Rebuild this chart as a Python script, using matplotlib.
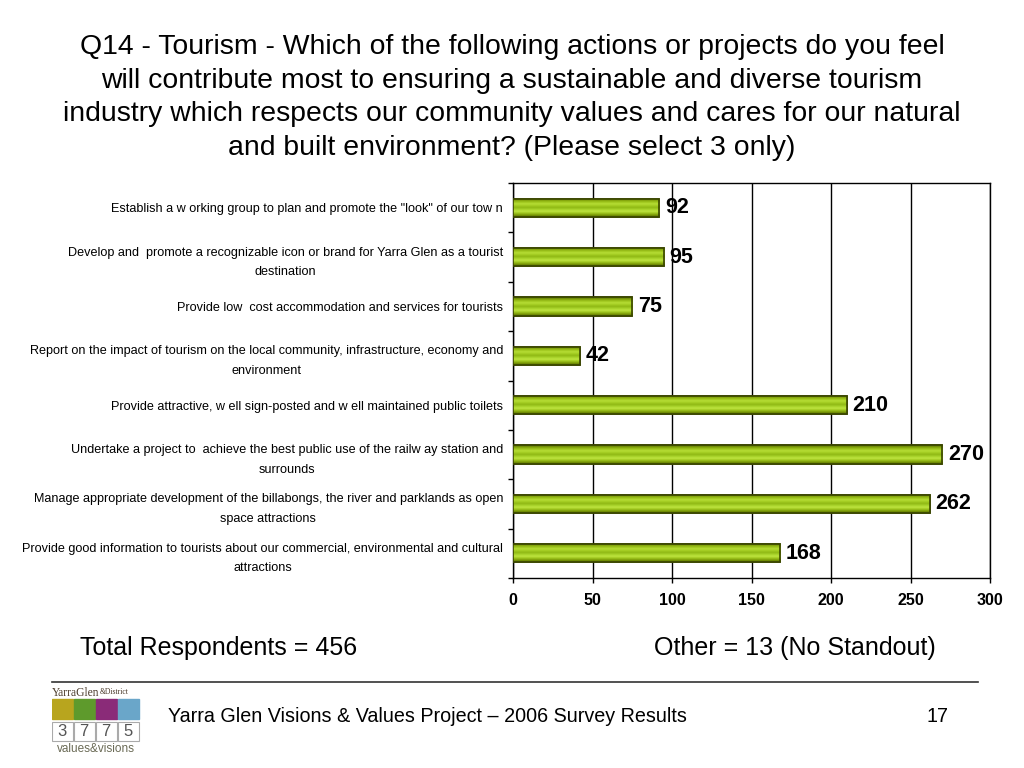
import matplotlib
matplotlib.use("Agg")
import matplotlib.pyplot as plt
import numpy as np
from matplotlib.patches import Rectangle
from matplotlib.colors import LinearSegmentedColormap

plt.rcParams['font.family'] = ['Liberation Sans', 'DejaVu Sans']

categories = [
    'Establish a w orking group to plan and promote the "look" of our tow n',
    'Develop and  promote a recognizable icon or brand for Yarra Glen as a tourist\ndestination',
    'Provide low  cost accommodation and services for tourists',
    'Report on the impact of tourism on the local community, infrastructure, economy and\nenvironment',
    'Provide attractive, w ell sign-posted and w ell maintained public toilets',
    'Undertake a project to  achieve the best public use of the railw ay station and\nsurrounds',
    'Manage appropriate development of the billabongs, the river and parklands as open\nspace attractions',
    'Provide good information to tourists about our commercial, environmental and cultural\nattractions',
]
values = [92, 95, 75, 42, 210, 270, 262, 168]
xticks = [0, 50, 100, 150, 200, 250, 300]

title = ("Q14 - Tourism - Which of the following actions or projects do you feel\n"
         "will contribute most to ensuring a sustainable and diverse tourism\n"
         "industry which respects our community values and cares for our natural\n"
         "and built environment? (Please select 3 only)")

fig = plt.figure(figsize=(10.24, 7.68), dpi=100)
fig.patch.set_facecolor('white')

ax = fig.add_axes([513/1024, 1-578/768, (990-513)/1024, (578-183)/768])
y = np.arange(len(categories))
bars = ax.barh(y, values, height=0.37, color='#99c21a', edgecolor='#3a4500', linewidth=1.2, zorder=3)

# striped vertical gradient inside each bar
stripe_colors = ['#556b00', '#7f9e0a', '#9dc41c', '#b6de35', '#a3cc22', '#8fb814',
                 '#a8d22a', '#bfe540', '#9ec61e', '#7c9a08', '#566c00']
cmap = LinearSegmentedColormap.from_list('stripes', stripe_colors)
grad = np.linspace(0, 1, 64).reshape(-1, 1)
for b in bars:
    x0, y0 = b.get_x(), b.get_y()
    w, h = b.get_width(), b.get_height()
    im = ax.imshow(grad, cmap=cmap, aspect='auto', extent=(x0, x0 + w, y0 + h, y0),
                   zorder=3.5, interpolation='bilinear')
    im.set_clip_path(b)
    edge = Rectangle((x0, y0), w, h, fill=False, edgecolor='#3a4500', linewidth=1.2, zorder=4)
    ax.add_patch(edge)

for yi, v in zip(y, values):
    ax.annotate(str(v), (v, yi), xytext=(4, 0), textcoords='offset points',
                va='center', ha='left', fontsize=15.5, fontweight='bold', color='black', zorder=5)

ax.set_xlim(0, 300)
ax.set_ylim(len(categories) - 0.5, -0.5)
ax.set_xticks(xticks)
ax.set_xticklabels([str(t) for t in xticks], fontsize=11.5, fontweight='bold')
ax.set_yticks(y)
ax.set_yticklabels(categories, fontsize=9.1, ha='right', linespacing=1.84)
for t in ax.get_yticklabels():
    t.set_multialignment('center')
ax.tick_params(axis='y', which='major', length=0, pad=7.2)
ax.set_yticks(np.arange(-0.5, len(categories), 1.0), minor=True)
ax.tick_params(axis='y', which='minor', length=3.6, direction='out', width=1)
ax.tick_params(axis='x', which='major', length=3.6, direction='out', width=1, pad=7)
ax.xaxis.grid(True, color='black', linewidth=1, zorder=1)
ax.set_axisbelow(True)
for s in ax.spines.values():
    s.set_color('black')
    s.set_linewidth(1)

fig.text(0.5, 1 - 97.5/768, title, ha='center', va='center', fontsize=20.4, linespacing=1.38)

fig.text(80/1024, 1 - 648/768, 'Total Respondents = 456', ha='left', va='center', fontsize=18)
fig.text(936/1024, 1 - 648/768, 'Other = 13 (No Standout)', ha='right', va='center', fontsize=18)

fig.add_artist(plt.Line2D([52/1024, 978/1024], [1 - 682/768, 1 - 682/768], color='#333333', linewidth=1.2))
fig.text(168/1024, 1 - 717/768, 'Yarra Glen Visions & Values Project \u2013 2006 Survey Results',
         ha='left', va='center', fontsize=14.2)
fig.text(948/1024, 1 - 717/768, '17', ha='right', va='center', fontsize=14.2)

# simple logo
lax = fig.add_axes([52/1024, 1 - 754/768, 90/1024, 68/768])
lax.set_xlim(0, 90)
lax.set_ylim(68, 0)
lax.axis('off')
t1 = lax.text(0, 6.5, 'YarraGlen', fontsize=8.3, family='Liberation Serif', va='baseline', ha='left',
              color='#4a3a2a')
t1.set_va('center')
lax.annotate('&District', xy=(1.0, 0.2), xycoords=t1, fontsize=5.5, family='Liberation Serif',
             va='bottom', ha='left', color='#4a3a2a')
for i, c in enumerate(['#b8a51e', '#5e9a2c', '#8a2b78', '#6aa6c9']):
    lax.add_patch(Rectangle((i * 22, 13), 20.5, 20, color=c))
for i, d in enumerate(['3', '7', '7', '5']):
    lax.add_patch(Rectangle((i * 22, 36), 20.5, 19, fill=False, edgecolor='#aaaaaa', linewidth=0.8))
    lax.text(i * 22 + 10.25, 46, d, fontsize=12, ha='center', va='center', color='#555555')
lax.text(44, 62.5, 'values&visions', fontsize=8.5, ha='center', va='center', color='#6a6a55')

fig.savefig('out.png', dpi=100)
